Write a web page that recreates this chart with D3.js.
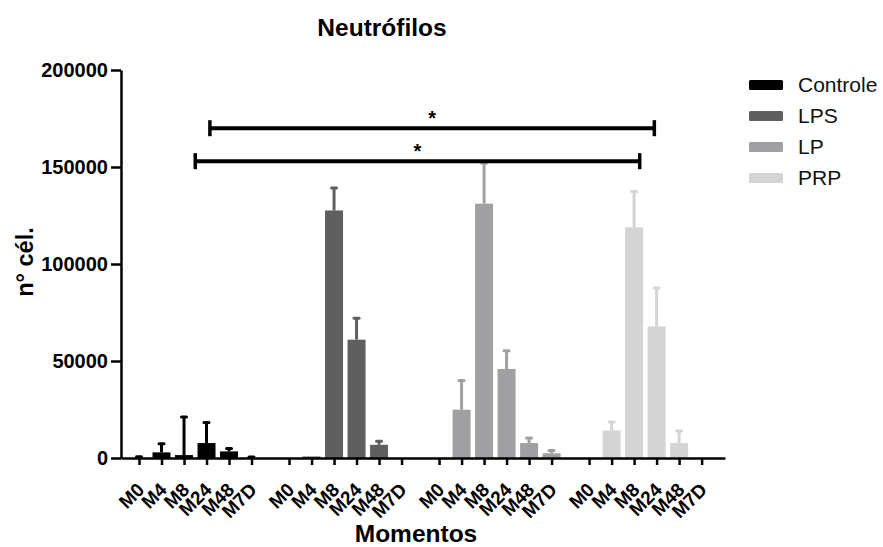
<!DOCTYPE html>
<meta charset="utf-8">
<script src="https://d3js.org/d3.v7.min.js"></script>
<style>
  body { margin: 0; background: #fff; }
  text { font-family: "Liberation Sans", Arial, sans-serif; }
</style>
<div id="my_dataviz"></div>
<script>

// categories
var moments = ["M0", "M4", "M8", "M24", "M48", "M7D"];
var groups = ["Controle", "LPS", "LP", "PRP"];
var colors = ["#000000", "#5f5f5f", "#a0a0a2", "#d4d4d4"];

// means per group (n° cél.)
var controleMean = [0, 2900, 1500, 7700, 3400, 0];
var lpsMean = [0, 800, 127600, 61000, 6800, 0];
var lpMean = [0, 24900, 131100, 45900, 7700, 2400];
var prpMean = [0, 14200, 118900, 67800, 7700, 0];

// upper error bars
var controleErr = [600, 4500, 19600, 10600, 1500, 500];
var lpsErr = [0, 0, 11600, 11000, 1800, 0];
var lpErr = [0, 15100, 20900, 9400, 2600, 1500];
var prpErr = [0, 4300, 18500, 19800, 6200, 0];

// y ticks
var yTicks = [0, 50000, 100000, 150000, 200000];

// significance brackets (slot positions on the x axis, value on the y axis)
var brackets = [
  {from: 3.15, to: 22.9, value: 170000, label: "*"},
  {from: 2.5, to: 22.25, value: 153000, label: "*"}
];

var means = [controleMean, lpsMean, lpMean, prpMean];
var errs = [controleErr, lpsErr, lpErr, prpErr];
var groupGap = 0.667;

var data = [];
groups.forEach(function(g, gi) {
  moments.forEach(function(m, mi) {
    data.push({group: g, gi: gi, moment: m, slot: gi * (moments.length + groupGap) + mi,
               value: means[gi][mi], err: errs[gi][mi]});
  });
});

var margin = {top: 70, right: 158, bottom: 89, left: 121},
    width = 883 - margin.left - margin.right,
    height = 547 - margin.top - margin.bottom;

var svg = d3.select("#my_dataviz")
  .append("svg")
    .attr("width", 883)
    .attr("height", 547);

var g = svg.append("g")
    .attr("transform", "translate(" + margin.left + "," + margin.top + ")");

// slot scale
var x = d3.scaleLinear()
  .domain([-0.8, 26.04])
  .range([0, width]);

var y = d3.scaleLinear()
  .domain([0, 200000])
  .range([height, 0]);

var barW = 18;

// bars
g.selectAll("rect.bar")
  .data(data)
  .enter()
  .append("rect")
    .attr("class", "bar")
    .attr("x", function(d) { return x(d.slot) - barW / 2; })
    .attr("y", function(d) { return y(d.value); })
    .attr("width", barW)
    .attr("height", function(d) { return height - y(d.value); })
    .attr("fill", function(d) { return colors[d.gi]; });

// error bars
var eb = g.selectAll("g.err")
  .data(data.filter(function(d) { return d.err > 0; }))
  .enter()
  .append("g")
    .attr("class", "err");

eb.append("line")
    .attr("x1", function(d) { return x(d.slot); })
    .attr("x2", function(d) { return x(d.slot); })
    .attr("y1", function(d) { return y(d.value); })
    .attr("y2", function(d) { return y(d.value + d.err); })
    .attr("stroke", function(d) { return colors[d.gi]; })
    .attr("stroke-width", 3);

eb.append("rect")
    .attr("x", function(d) { return x(d.slot) - 4; })
    .attr("y", function(d) { return y(d.value + d.err) - 1.5; })
    .attr("width", 8)
    .attr("height", 3)
    .attr("rx", 1.5)
    .attr("fill", function(d) { return colors[d.gi]; });

// Y axis
var yAxis = g.append("g")
  .call(d3.axisLeft(y).tickValues(yTicks).tickFormat(d3.format("d"))
    .tickSize(10).tickPadding(3).tickSizeOuter(0));
yAxis.select(".domain").attr("stroke-width", 2.5);
yAxis.selectAll(".tick line").attr("stroke-width", 2.5);
yAxis.selectAll(".tick text")
  .attr("font-size", 20)
  .attr("font-weight", "bold")
  .attr("fill", "#000");

// X axis
var xAxis = g.append("g")
  .attr("transform", "translate(0," + height + ")")
  .call(d3.axisBottom(x)
    .tickValues(data.map(function(d) { return d.slot; }))
    .tickFormat(function(s, i) { return data[i].moment; })
    .tickSize(7)
    .tickSizeOuter(0));
xAxis.select(".domain").attr("stroke-width", 2.5);
xAxis.selectAll(".tick line").attr("stroke-width", 2.5);
xAxis.selectAll(".tick text")
  .attr("font-size", 19)
  .attr("font-weight", "bold")
  .attr("fill", "#000")
  .attr("text-anchor", "end")
  .attr("y", 0)
  .attr("dy", 0)
  .attr("transform", "translate(6,33) rotate(-45)");

// significance brackets
var br = g.selectAll("g.bracket")
  .data(brackets)
  .enter()
  .append("g")
    .attr("class", "bracket");

br.append("line")
    .attr("x1", function(d) { return x(d.from); })
    .attr("x2", function(d) { return x(d.to); })
    .attr("y1", function(d) { return y(d.value); })
    .attr("y2", function(d) { return y(d.value); })
    .attr("stroke", "#000")
    .attr("stroke-width", 4);

br.selectAll("line.end")
  .data(function(d) { return [{x: d.from, v: d.value}, {x: d.to, v: d.value}]; })
  .enter()
  .append("line")
    .attr("class", "end")
    .attr("x1", function(d) { return x(d.x); })
    .attr("x2", function(d) { return x(d.x); })
    .attr("y1", function(d) { return y(d.v) - 8; })
    .attr("y2", function(d) { return y(d.v) + 8; })
    .attr("stroke", "#000")
    .attr("stroke-width", 3.5);

br.append("text")
    .attr("x", function(d) { return x((d.from + d.to) / 2); })
    .attr("y", function(d) { return y(d.value) - 3; })
    .attr("text-anchor", "middle")
    .attr("font-size", 20)
    .attr("font-weight", "bold")
    .text(function(d) { return d.label; });

// title and axis labels
svg.append("text")
  .attr("x", 382)
  .attr("y", 36)
  .attr("text-anchor", "middle")
  .attr("font-size", 24.5)
  .attr("font-weight", "bold")
  .text("Neutrófilos");

svg.append("text")
  .attr("x", 416)
  .attr("y", 542)
  .attr("text-anchor", "middle")
  .attr("font-size", 24.5)
  .attr("font-weight", "bold")
  .text("Momentos");

svg.append("text")
  .attr("transform", "translate(33,262) rotate(-90)")
  .attr("text-anchor", "middle")
  .attr("font-size", 23.5)
  .attr("font-weight", "bold")
  .text("n° cél.");

// legend
var legend = svg.selectAll("g.legend")
  .data(groups)
  .enter()
  .append("g")
    .attr("class", "legend")
    .attr("transform", function(d, i) { return "translate(749," + (80 + i * 31) + ")"; });

legend.append("rect")
  .attr("width", 34)
  .attr("height", 10)
  .attr("rx", 1.5)
  .attr("fill", function(d, i) { return colors[i]; });

legend.append("text")
  .attr("x", 49)
  .attr("y", 12)
  .attr("font-size", 21)
  .attr("fill", "#111")
  .text(function(d) { return d; });

</script>
